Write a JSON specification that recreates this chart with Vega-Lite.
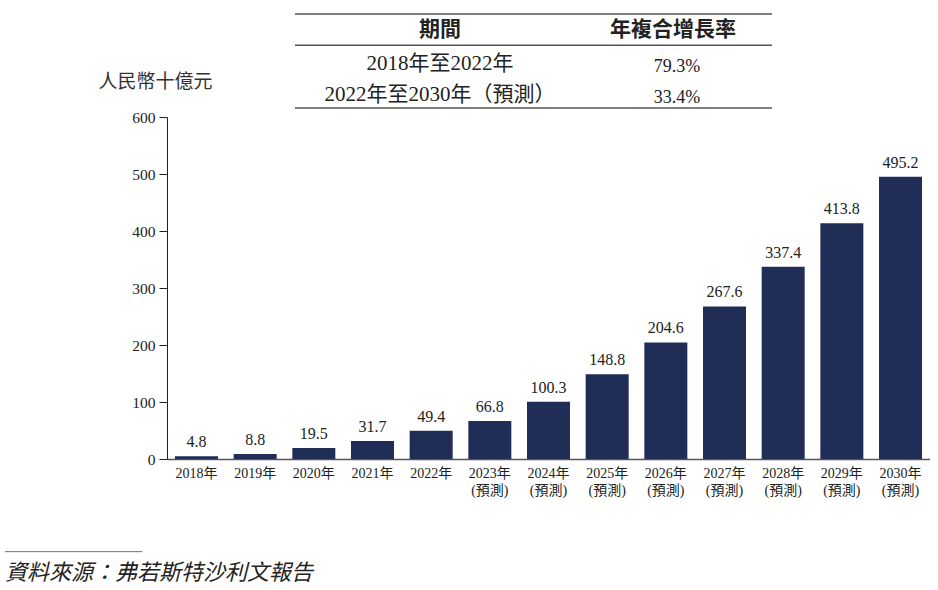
{
  "$schema": "https://vega.github.io/schema/vega-lite/v6.json",
  "padding": {"left": 5, "top": 13, "right": 0, "bottom": 8},
  "bounds": "flush",
  "spacing": 9,
  "config": {
    "view": {"stroke": null},
    "font": "Liberation Serif, Noto Sans CJK TC",
    "text": {"color": "#222"}
  },
  "datasets": {
    "table": [
      {"row": "header", "col": "期間", "text": "期間"},
      {"row": "header", "col": "年複合增長率", "text": "年複合增長率"},
      {"row": "r1", "col": "期間", "text": "2018年至2022年"},
      {"row": "r1", "col": "年複合增長率", "text": "79.3%"},
      {"row": "r2", "col": "期間", "text": "2022年至2030年（預測）"},
      {"row": "r2", "col": "年複合增長率", "text": "33.4%"}
    ],
    "market": [
      {"year": "2018年", "value": 4.8},
      {"year": "2019年", "value": 8.8},
      {"year": "2020年", "value": 19.5},
      {"year": "2021年", "value": 31.7},
      {"year": "2022年", "value": 49.4},
      {"year": "2023年(預測)", "value": 66.8},
      {"year": "2024年(預測)", "value": 100.3},
      {"year": "2025年(預測)", "value": 148.8},
      {"year": "2026年(預測)", "value": 204.6},
      {"year": "2027年(預測)", "value": 267.6},
      {"year": "2028年(預測)", "value": 337.4},
      {"year": "2029年(預測)", "value": 413.8},
      {"year": "2030年(預測)", "value": 495.2}
    ]
  },
  "title": {
    "text": "───────────────────",
    "subtitle": "資料來源：弗若斯特沙利文報告",
    "orient": "bottom",
    "anchor": "start",
    "dx": -93,
    "offset": 50,
    "font": "DejaVu Sans",
    "fontSize": 12,
    "fontWeight": "normal",
    "color": "#777",
    "subtitleFont": "Noto Sans CJK TC",
    "subtitleFontSize": 22,
    "subtitleFontStyle": "italic",
    "subtitleColor": "#222",
    "subtitlePadding": 4
  },
  "vconcat": [
    {
      "width": 606,
      "height": 94,
      "data": {"name": "table"},
      "resolve": {"scale": {"x": "independent"}},
      "encoding": {
        "y": {
          "field": "row",
          "type": "nominal",
          "scale": {"type": "band", "domain": ["header", "r1", "r2"], "range": [0, 94], "paddingInner": 0, "paddingOuter": 0},
          "axis": null
        }
      },
      "layer": [
        {
          "transform": [{"filter": "datum.col === '期間' && datum.row !== 'r2'"}],
          "mark": {"type": "rule", "color": "#555", "strokeWidth": 1.5},
          "encoding": {
            "y": {"field": "row", "type": "nominal", "bandPosition": 0},
            "x": {"datum": "期間", "type": "nominal", "scale": {"type": "point", "domain": ["期間", "年複合增長率"], "range": [128, 605], "padding": 0}, "axis": null},
            "x2": {"datum": "年複合增長率"}
          }
        },
        {
          "transform": [{"filter": "datum.col === '期間' && datum.row === 'r2'"}],
          "mark": {"type": "rule", "color": "#555", "strokeWidth": 1.5},
          "encoding": {
            "y": {"field": "row", "type": "nominal", "bandPosition": 1},
            "x": {"datum": "期間", "type": "nominal", "scale": {"type": "point", "domain": ["期間", "年複合增長率"], "range": [128, 605], "padding": 0}, "axis": null},
            "x2": {"datum": "年複合增長率"}
          }
        },
        {
          "transform": [{"filter": "datum.row === 'header'"}],
          "mark": {"type": "text", "fontSize": 21, "fontWeight": "bold", "font": "Noto Sans CJK TC", "baseline": "middle"},
          "encoding": {
            "y": {"field": "row", "type": "nominal", "bandPosition": 0.5},
            "x": {"field": "col", "type": "nominal", "scale": {"type": "point", "domain": ["期間", "年複合增長率"], "range": [273, 506], "padding": 0}, "axis": null},
            "text": {"field": "text"}
          }
        },
        {
          "transform": [{"filter": "datum.row !== 'header' && datum.col === '期間'"}],
          "mark": {"type": "text", "fontSize": 21, "baseline": "middle", "dy": 2.5},
          "encoding": {
            "y": {"field": "row", "type": "nominal", "bandPosition": 0.5},
            "x": {"field": "col", "type": "nominal", "scale": {"type": "point", "domain": ["期間", "年複合增長率"], "range": [273, 506], "padding": 0}, "axis": null},
            "text": {"field": "text"}
          }
        },
        {
          "transform": [{"filter": "datum.row !== 'header' && datum.col === '年複合增長率'"}],
          "mark": {"type": "text", "fontSize": 18, "baseline": "middle", "dy": 6},
          "encoding": {
            "y": {"field": "row", "type": "nominal", "bandPosition": 0.5},
            "x": {"field": "col", "type": "nominal", "scale": {"type": "point", "domain": ["期間", "年複合增長率"], "range": [273, 510], "padding": 0}, "axis": null},
            "text": {"field": "text"}
          }
        }
      ]
    },
    {
      "width": 763,
      "height": 342,
      "data": {"name": "market"},
      "encoding": {
        "x": {
          "field": "year",
          "type": "nominal",
          "sort": null,
          "scale": {"paddingInner": 0.267, "paddingOuter": 0.136},
          "axis": {
            "title": null,
            "labelAngle": 0,
            "ticks": false,
            "domainColor": "#555",
            "domainWidth": 1.5,
            "labelFontSize": 14,
            "labelLineHeight": 17,
            "labelPadding": 7,
            "labelColor": "#222",
            "labelExpr": "indexof(datum.value, '(') > 0 ? [substring(datum.value, 0, indexof(datum.value, '(')), substring(datum.value, indexof(datum.value, '('))] : datum.value"
          }
        },
        "y": {
          "field": "value",
          "type": "quantitative",
          "scale": {"domain": [0, 600]},
          "axis": {
            "values": [0, 100, 200, 300, 400, 500, 600],
            "grid": false,
            "tickSize": 8,
            "labelPadding": 4,
            "labelFontSize": 15.5,
            "labelColor": "#222",
            "domainColor": "#222",
            "tickColor": "#222",
            "title": "人民幣十億元",
            "titleFont": "Noto Sans CJK TC",
            "titleFontSize": 19,
            "titleFontWeight": "normal",
            "titleColor": "#333",
            "titleAngle": 0,
            "titleAlign": "left",
            "titleBaseline": "middle",
            "titleX": -69,
            "titleY": -36
          }
        }
      },
      "layer": [
        {"mark": {"type": "bar", "color": "#1f2d57"}},
        {
          "mark": {"type": "text", "baseline": "bottom", "dy": -6, "fontSize": 16},
          "encoding": {"text": {"field": "value", "type": "quantitative", "format": ".1f"}}
        }
      ]
    }
  ]
}
